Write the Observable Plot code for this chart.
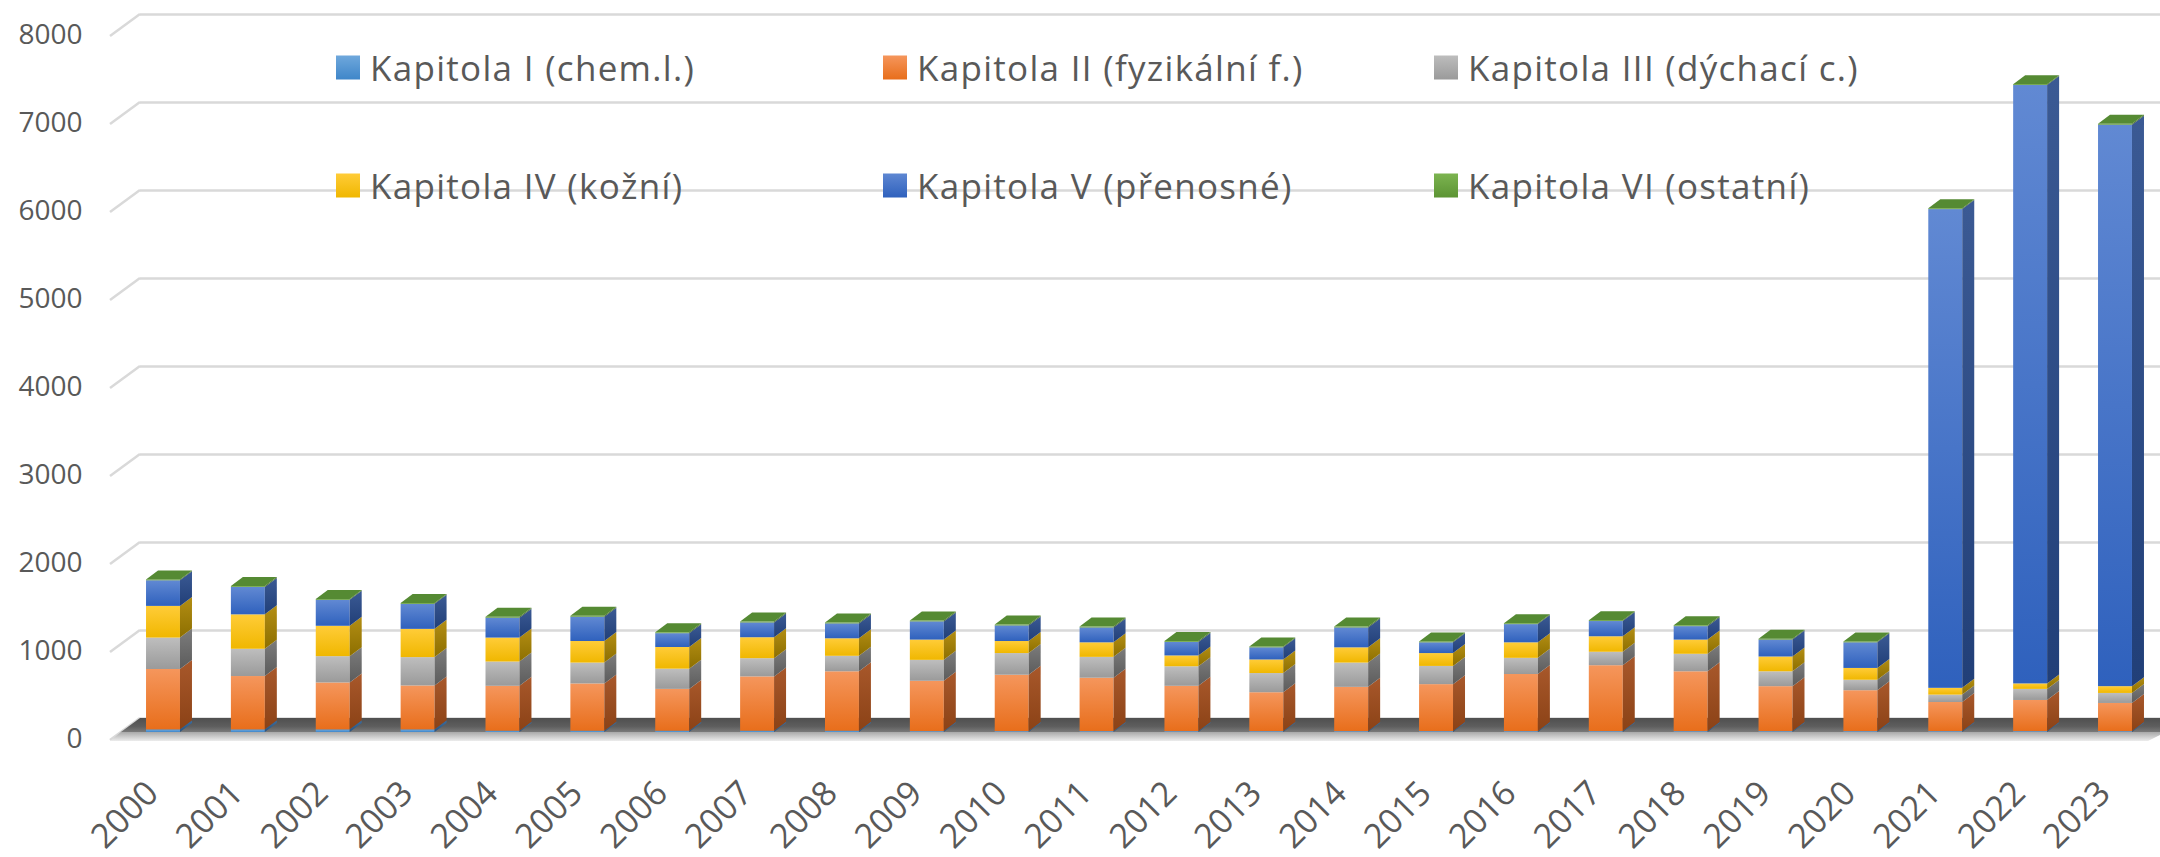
<!DOCTYPE html>
<html>
<head>
<meta charset="utf-8">
<script src="https://cdn.jsdelivr.net/npm/d3@7"></script>
<script src="https://cdn.jsdelivr.net/npm/@observablehq/plot@0.6"></script>
<style>
html,body{margin:0;padding:0;background:#fff;}
#wrap{position:relative;width:2160px;height:857px;font-family:"Open Sans",sans-serif;overflow:hidden;}
#wrap svg{position:absolute;left:0;top:0;}
.leg{position:absolute;display:flex;align-items:center;transform:translateY(-50%);font-size:35px;letter-spacing:1.3px;color:#595959;white-space:nowrap;font-family:"Open Sans",sans-serif;}
.sw{width:24px;height:24px;margin-right:10px;}
</style>
</head>
<body>
<div id="wrap"></div>
<script>
// ---- data ----
const years = ["2000","2001","2002","2003","2004","2005","2006","2007","2008","2009","2010","2011",
               "2012","2013","2014","2015","2016","2017","2018","2019","2020","2021","2022","2023"];
const chapters = ["Kapitola I (chem.l.)","Kapitola II (fyzikální f.)","Kapitola III (dýchací c.)",
                  "Kapitola IV (kožní)","Kapitola V (přenosné)","Kapitola VI (ostatní)"];
const kapI   = [30,30,30,30,15,15,15,15,15,10,10,10,10,10,10,10,10,10,10,10,10,10,10,10];
const kapII  = [686,606,533,499,510,537,475,617,675,572,641,607,515,442,503,534,649,749,680,511,465,331,354,320];
const kapIII = [357,310,299,322,276,237,230,207,176,238,246,237,222,218,276,207,184,153,199,169,119,84,126,114];
const kapIV  = [360,391,345,321,272,245,246,238,199,230,137,165,123,154,173,146,176,176,161,168,134,77,62,77];
const kapV   = [291,311,295,284,226,276,157,168,169,207,177,169,153,138,226,122,207,173,153,192,291,5440,6800,6380];
const kapVI  = [10,10,10,10,10,10,10,10,10,10,10,10,10,10,10,10,10,10,10,10,10,10,10,10];
const yTicks = [0,1000,2000,3000,4000,5000,6000,7000,8000];

// ---- styles ----
const frontTop    = ["#72abdf","#f5965c","#bebebe","#ffcc38","#6189d3","#7cb450"];
const frontBottom = ["#3f86c9","#e86e1b","#9a9a9a","#f0b700","#2f61bd","#5c9434"];
const sideTop     = ["#3a6c9e","#a8582b","#7c7c7c","#b38e14","#3b5a94","#4d7632"];
const sideBottom  = ["#2a5480","#8b4216","#5c5c5c","#8d6f00","#213f78","#395c22"];
const topFace = "#558a33";
const legendColors = [["#6fa8dc","#3f86c9"],["#f5965c","#e86e1b"],["#bdbdbd","#9a9a9a"],
                      ["#ffcc38","#f0b700"],["#5e87d2","#2f61bd"],["#7cb450","#5c9434"]];
const DEPTH_X = 12, DEPTH_Y = 9;

const series = [kapI, kapII, kapIII, kapIV, kapV, kapVI];
const rows = [];
const segs = [];
years.forEach((yr, j) => {
  let c = 0;
  series.forEach((s, i) => {
    rows.push({year: yr, ci: i, chapter: chapters[i], value: s[j]});
    segs.push({year: yr, i, y1: c, y2: c + s[j]});
    c += s[j];
  });
});
const totals = years.map((yr, j) => d3.sum(series, s => s[j]));

const NS = "http://www.w3.org/2000/svg";
function el(name, attrs, parent) {
  const e = document.createElementNS(NS, name);
  for (const k in attrs) e.setAttribute(k, attrs[k]);
  if (parent) parent.appendChild(e);
  return e;
}
function grad(defs, id, stops) {
  const g = el("linearGradient", {id, x1: 0, y1: 0, x2: 0, y2: 1}, defs);
  stops.forEach(([o, c]) => el("stop", {offset: o, "stop-color": c}, g));
}

function defsMark() {
  const defs = el("defs", {});
  for (let i = 0; i < 6; i++) {
    grad(defs, "f" + i, [[0, frontTop[i]], [1, frontBottom[i]]]);
    grad(defs, "s" + i, [[0, sideTop[i]], [1, sideBottom[i]]]);
  }
  grad(defs, "floorTop", [[0, "#4f4f4f"], [0.6, "#5e5e5e"], [1, "#7a7a7a"]]);
  grad(defs, "floorFront", [[0, "#a9a9a9"], [1, "#ececec"]]);
  return defs;
}

function slantMark(index, scales, values, dims) {
  const {y} = scales;
  const g = el("g", {stroke: "#d9d9d9", "stroke-width": 2.5, fill: "none"});
  const x0 = dims.marginLeft;
  for (const t of yTicks) {
    el("path", {d: `M${x0 - 30},${y(t) + 8}L${x0},${y(t) - 14}`}, g);
  }
  return g;
}

function floorMark(index, scales, values, dims) {
  const {y} = scales;
  const g = el("g", {});
  const x0 = dims.marginLeft, xr = dims.width;
  const yb = y(0) - 14, yt = y(0), yf = y(0) + 9;
  const xl = x0 - 30 * (14 / 22);
  el("path", {d: `M${x0},${yb}L${xr},${yb}L${xr},${yt}L${xl},${yt}Z`, fill: "url(#floorTop)"}, g);
  el("path", {d: `M${xl},${yt}L${xr},${yt}L${xr},${yt + 3}L${xr - 12},${yf}L${x0 - 30},${yf}Z`, fill: "url(#floorFront)"}, g);
  return g;
}

function depthMark(index, scales) {
  const {x, y} = scales;
  const g = el("g", {});
  const bw = x.bandwidth();
  for (const s of segs) {
    if (s.y2 <= s.y1) continue;
    const x2 = x(s.year) + bw;
    const ya = y(s.y1), yb = y(s.y2);
    el("path", {d: `M${x2},${ya}L${x2 + DEPTH_X},${ya - DEPTH_Y}L${x2 + DEPTH_X},${yb - DEPTH_Y}L${x2},${yb}Z`,
                fill: `url(#s${s.i})`}, g);
  }
  years.forEach((yr, j) => {
    const x1 = x(yr), yt = y(totals[j]);
    el("path", {d: `M${x1},${yt}L${x1 + bw},${yt}L${x1 + bw + DEPTH_X},${yt - DEPTH_Y}L${x1 + DEPTH_X},${yt - DEPTH_Y}Z`,
                fill: topFace}, g);
  });
  return g;
}

const chart = Plot.plot({
  width: 2160,
  height: 857,
  marginLeft: 140,
  marginRight: 0,
  marginTop: 0,
  marginBottom: 0,
  style: {background: "transparent", fontFamily: "'Open Sans', sans-serif"},
  x: {type: "band", domain: years, range: [140, 2138], paddingInner: 0.6, paddingOuter: 0.071, round: false, axis: null},
  y: {domain: [0, 8000], range: [732, 28], axis: null},
  color: {type: "identity"},
  marks: [
    defsMark,
    Plot.ruleY(yTicks, {y: d => d, dy: -14, stroke: "#d9d9d9", strokeWidth: 2.5}),
    slantMark,
    floorMark,
    Plot.barY(rows, Plot.stackY({x: "year", y: "value", z: "ci", fill: d => `url(#f${d.ci})`})),
    depthMark,
    Plot.text(yTicks, {y: d => d, frameAnchor: "left", dx: -58, dy: 7, textAnchor: "end",
                       fontSize: 28, fill: "#595959", text: d => String(d)}),
    Plot.text(years, {x: d => d, y: () => 0, dx: -11, dy: 55, rotate: -45, textAnchor: "end",
                      fontSize: 34, fill: "#595959", text: d => d})
  ]
});

const wrap = document.getElementById("wrap");
wrap.appendChild(chart);

// legend (overlaid inside the plot area, as in the original)
const legendPos = [[336, 67], [883, 67], [1434, 67], [336, 185], [883, 185], [1434, 185]];
chapters.forEach((name, i) => {
  const item = document.createElement("div");
  item.className = "leg";
  item.style.left = legendPos[i][0] + "px";
  item.style.top = legendPos[i][1] + "px";
  const sw = document.createElement("div");
  sw.className = "sw";
  sw.style.background = `linear-gradient(${legendColors[i][0]}, ${legendColors[i][1]})`;
  const tx = document.createElement("span");
  tx.textContent = name;
  item.appendChild(sw);
  item.appendChild(tx);
  wrap.appendChild(item);
});
</script>
</body>
</html>
